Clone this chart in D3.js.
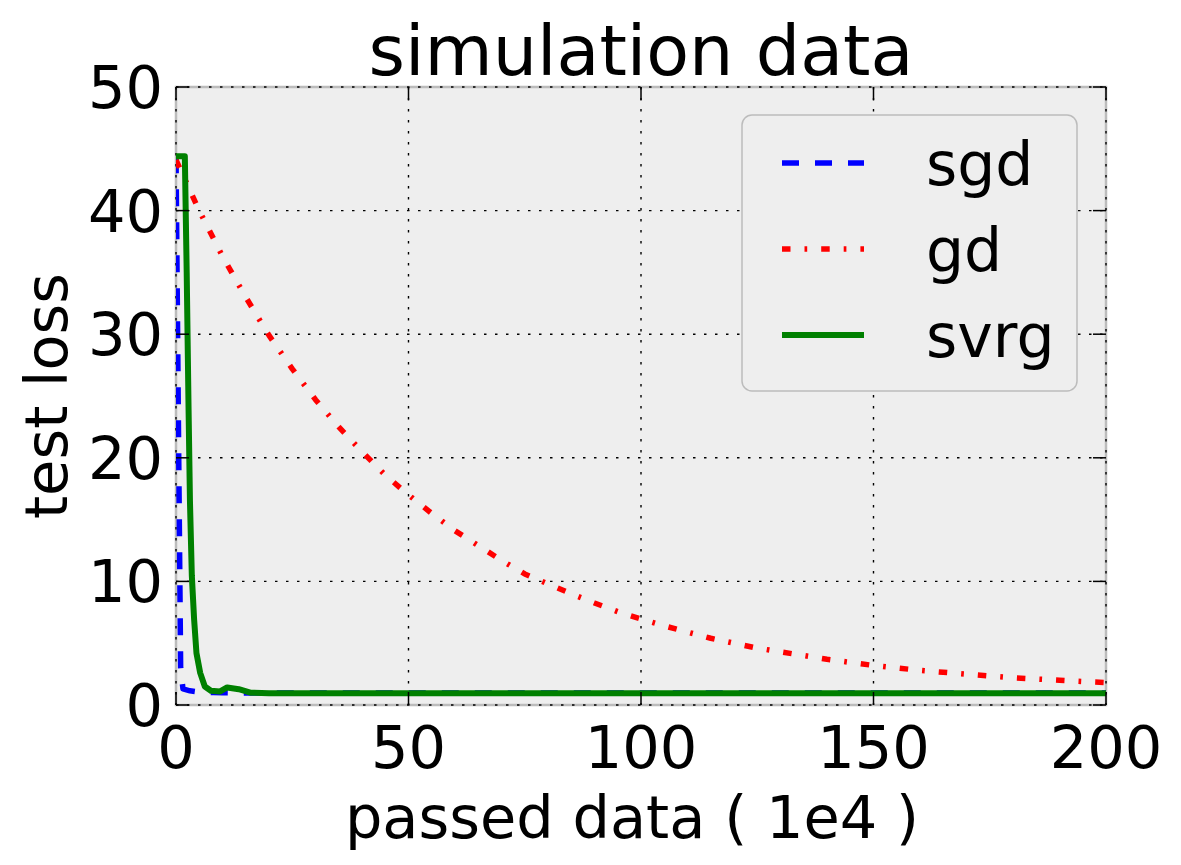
<!DOCTYPE html>
<html>
<head>
<meta charset="utf-8">
<script src="https://cdn.jsdelivr.net/npm/d3@7"></script>
<style>
  html, body { margin: 0; padding: 0; background: #ffffff; }
  svg text { font-family: "DejaVu Sans", sans-serif; fill: #000; }
</style>
</head>
<body>
<svg id="chart" width="1181" height="865"></svg>
<script>
// ---- data ----
const title = "simulation data";
const xLabel = "passed data ( 1e4 )";
const yLabel = "test loss";
const xTicks = [0, 50, 100, 150, 200];
const yTicks = [0, 10, 20, 30, 40, 50];
const seriesNames = ["sgd", "gd", "svrg"];

const sgdX = [0, 1, 1.5, 3, 5, 8, 10, 15, 20, 30, 40, 50, 60, 70, 80, 90, 100, 110, 120, 130, 140, 150, 160, 170, 180, 190, 200];
const sgdY = [44.4, 3.0, 1.3, 1.15, 1.05, 1.01, 0.99, 0.98, 0.98, 0.97, 0.97, 0.97, 0.97, 0.97, 0.97, 0.97, 0.97, 0.97, 0.97, 0.97, 0.97, 0.97, 0.97, 0.97, 0.97, 0.97, 0.97];

const gdX = [0, 5, 10, 15, 20, 25, 30, 35, 40, 45, 50, 55, 60, 65, 70, 75, 80, 85, 90, 95, 100, 105, 110, 115, 120, 125, 130, 135, 140, 145, 150, 155, 160, 165, 170, 175, 180, 185, 190, 195, 200];
const gdY = [44.1, 40.0, 36.3, 33.0, 29.9, 27.2, 24.7, 22.5, 20.5, 18.6, 17.0, 15.5, 14.1, 12.9, 11.7, 10.6, 9.8, 9.0, 8.25, 7.55, 6.95, 6.4, 5.9, 5.4, 5.0, 4.6, 4.3, 4.0, 3.7, 3.45, 3.2, 3.0, 2.8, 2.65, 2.5, 2.35, 2.2, 2.1, 2.0, 1.9, 1.82];

const svrgX = [0, 1.9, 2.3, 2.7, 3.0, 3.4, 3.9, 4.4, 5.2, 6.2, 7.5, 9.5, 11, 13.5, 16, 20, 30, 40, 50, 60, 70, 80, 90, 100, 110, 120, 130, 140, 150, 160, 170, 180, 190, 200];
const svrgY = [44.4, 44.4, 35, 24, 16.5, 10.5, 6.9, 4.2, 2.6, 1.5, 1.15, 1.1, 1.42, 1.28, 1.0, 0.96, 0.95, 0.95, 0.95, 0.95, 0.95, 0.95, 0.95, 0.95, 0.95, 0.95, 0.95, 0.95, 0.95, 0.95, 0.95, 0.95, 0.95, 0.95];

// ---- layout ----
const svg = d3.select("#chart");
const plot = { left: 176, right: 1106, top: 87, bottom: 705 };
const x = d3.scaleLinear().domain([0, 200]).range([plot.left, plot.right]);
const y = d3.scaleLinear().domain([0, 50]).range([plot.bottom, plot.top]);

// background
svg.append("rect")
  .attr("x", plot.left).attr("y", plot.top)
  .attr("width", plot.right - plot.left).attr("height", plot.bottom - plot.top)
  .attr("fill", "#eeeeee");

// spines
svg.append("rect")
  .attr("x", plot.left).attr("y", plot.top)
  .attr("width", plot.right - plot.left).attr("height", plot.bottom - plot.top)
  .attr("fill", "none").attr("stroke", "#bcbcbc").attr("stroke-width", 2.5);

// grid
const grid = svg.append("g").attr("stroke", "#000").attr("stroke-width", 1.4)
  .attr("stroke-dasharray", "2.5,8.5");
grid.selectAll("line.vx").data(xTicks).join("line")
  .attr("x1", d => x(d)).attr("x2", d => x(d))
  .attr("y1", plot.top).attr("y2", plot.bottom);
grid.selectAll("line.hy").data(yTicks).join("line")
  .attr("x1", plot.left).attr("x2", plot.right)
  .attr("y1", d => y(d)).attr("y2", d => y(d));

// series
const series = [
  { name: "sgd", xs: sgdX, ys: sgdY, color: "#0000ff", dash: "17,16", w: 5.5 },
  { name: "gd", xs: gdX, ys: gdY, color: "#ff0000", dash: "8.5,14,2.7,14", w: 5.5 },
  { name: "svrg", xs: svrgX, ys: svrgY, color: "#008000", dash: null, w: 6 }
];
const line = d3.line().x(d => x(d[0])).y(d => y(d[1]));

svg.append("defs").append("clipPath").attr("id", "clip")
  .append("rect").attr("x", plot.left).attr("y", plot.top)
  .attr("width", plot.right - plot.left).attr("height", plot.bottom - plot.top);

const lines = svg.append("g").attr("clip-path", "url(#clip)");
series.forEach(s => {
  const pts = s.xs.map((v, i) => [v, s.ys[i]]);
  lines.append("path")
    .datum(pts)
    .attr("d", line)
    .attr("fill", "none")
    .attr("stroke", s.color)
    .attr("stroke-width", s.w)
    .attr("stroke-linejoin", "round")
    .attr("stroke-linecap", s.dash ? "butt" : "round")
    .attr("stroke-dasharray", s.dash);
});

// ticks (inward on all four sides)
const tickLen = 13;
const ticks = svg.append("g").attr("stroke", "#000").attr("stroke-width", 1.5);
xTicks.forEach(t => {
  ticks.append("line").attr("x1", x(t)).attr("x2", x(t)).attr("y1", plot.bottom).attr("y2", plot.bottom - tickLen);
  ticks.append("line").attr("x1", x(t)).attr("x2", x(t)).attr("y1", plot.top).attr("y2", plot.top + tickLen);
});
yTicks.forEach(t => {
  ticks.append("line").attr("x1", plot.left).attr("x2", plot.left + tickLen).attr("y1", y(t)).attr("y2", y(t));
  ticks.append("line").attr("x1", plot.right).attr("x2", plot.right - tickLen).attr("y1", y(t)).attr("y2", y(t));
});

// tick labels
const tickFont = 59;
svg.append("g").selectAll("text").data(xTicks).join("text")
  .attr("x", d => x(d)).attr("y", 768)
  .attr("text-anchor", "middle")
  .attr("font-size", tickFont)
  .text(d => d);
svg.append("g").selectAll("text").data(yTicks).join("text")
  .attr("x", 163).attr("y", d => y(d) + 21)
  .attr("text-anchor", "end")
  .attr("font-size", tickFont)
  .text(d => d);

// title & axis labels
svg.append("text").attr("x", (plot.left + plot.right) / 2).attr("y", 75)
  .attr("text-anchor", "middle").attr("font-size", 70).text(title);
svg.append("text").attr("x", 632).attr("y", 838)
  .attr("text-anchor", "middle").attr("font-size", 59).text(xLabel);
svg.append("text")
  .attr("transform", `translate(67, ${(plot.top + plot.bottom) / 2}) rotate(-90)`)
  .attr("text-anchor", "middle").attr("font-size", 59).text(yLabel);

// legend
const lg = svg.append("g");
lg.append("rect").attr("x", 742).attr("y", 115).attr("width", 335).attr("height", 276)
  .attr("rx", 10).attr("ry", 10)
  .attr("fill", "#eeeeee").attr("stroke", "#bcbcbc").attr("stroke-width", 1.5);
const rowY = d3.scalePoint().domain(seriesNames).range([163, 335]);
series.forEach(s => {
  const yy = rowY(s.name);
  lg.append("line").attr("x1", 782).attr("x2", 864).attr("y1", yy).attr("y2", yy)
    .attr("stroke", s.color).attr("stroke-width", s.w)
    .attr("stroke-dasharray", s.dash);
  lg.append("text").attr("x", 926).attr("y", yy + 22)
    .attr("font-size", 60).text(s.name);
});
</script>
</body>
</html>
